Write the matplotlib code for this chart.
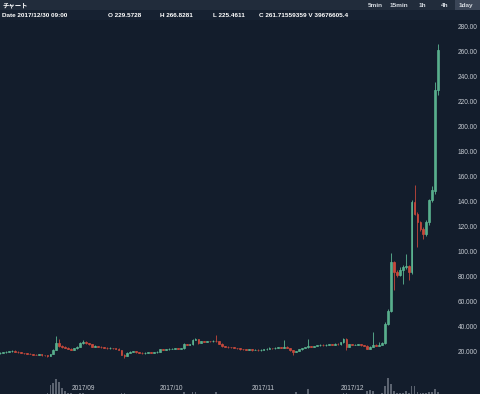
import matplotlib
matplotlib.use("Agg")
import matplotlib.pyplot as plt
from matplotlib.patches import Rectangle
import matplotlib.transforms as mtransforms
import numpy as np
import pandas as pd

plt.rcParams['font.family'] = ['Liberation Sans', 'Noto Sans CJK JP']

# daily candles, 2017-08-04 .. 2017-12-30
dates = pd.date_range("2017-08-04", "2017-12-30", freq="D")

opens = [
    # Aug
    19.2, 19.5, 19.9, 20.4, 20.9, 21.3, 20.6, 19.9, 19.5, 19.1, 18.8, 18.6, 18.2, 18.0,
    18.3, 17.8, 17.5, 17.2, 18.6, 22.0, 27.6, 25.2, 24.2, 23.6, 22.8, 22.2, 23.1, 24.6,
    # Sep
    27.4, 28.6, 27.2, 26.4, 24.6, 25.0, 24.4, 24.0, 23.6, 23.2, 23.5, 23.1, 22.8, 21.9, 18.0,
    17.0, 19.8, 20.5, 20.8, 20.0, 19.6, 19.2, 19.6, 19.9, 19.5, 20.0, 20.3, 22.4, 22.0, 22.5,
    # Oct
    22.8, 23.0, 23.2, 22.8, 23.4, 26.5, 26.0, 26.4, 30.2, 30.5, 27.5, 28.8, 28.6, 29.0, 28.7, 29.1,
    28.8, 26.8, 25.0, 24.6, 24.2, 23.9, 23.5, 23.1, 22.6, 22.3, 22.0, 22.3, 21.8, 22.0, 21.6,
    # Nov
    22.0, 22.5, 23.0, 23.4, 23.1, 23.5, 24.0, 23.6, 24.5, 23.5, 21.6, 20.4, 21.0, 22.4, 23.4,
    24.0, 25.0, 24.6, 25.0, 25.5, 26.0, 25.6, 26.0, 26.5, 26.1, 27.0, 26.6, 28.0, 31.0, 24.5,
    # Dec
    26.5, 26.0, 26.2, 26.6, 25.6, 25.4, 23.0, 24.6, 26.0, 25.4, 26.0, 27.5, 43.0, 53.0, 92.0,
    84.0, 82.0, 86.0, 88.0, 89.0, 84.0, 140.5, 131.0, 124.0, 119.0, 115.0, 124.0, 142.0, 149.0, 229.5728,
]
highs = [
    20.0, 20.4, 20.9, 21.4, 21.9, 21.6, 21.0, 20.2, 19.8, 19.5, 19.6, 18.9, 18.6, 18.7,
    18.6, 18.1, 17.8, 19.0, 22.6, 33.0, 30.5, 25.8, 24.8, 24.0, 23.2, 23.6, 25.0, 27.9,
    29.5, 29.0, 27.6, 26.7, 26.2, 25.4, 24.8, 24.3, 24.0, 23.9, 23.8, 23.4, 23.1, 22.2, 18.5,
    20.2, 20.9, 21.4, 21.1, 20.4, 19.9, 20.0, 20.3, 20.2, 20.4, 20.7, 22.9, 22.7, 22.9, 23.2,
    23.5, 23.6, 23.5, 23.8, 27.6, 26.9, 26.8, 30.8, 31.2, 30.8, 29.2, 29.1, 29.4, 29.3, 29.5, 34.0,
    29.1, 27.1, 25.3, 24.9, 24.5, 24.2, 23.8, 23.4, 22.9, 22.6, 22.7, 22.6, 22.4, 22.3, 22.4,
    22.9, 23.4, 24.5, 23.7, 23.9, 24.4, 24.3, 30.0, 24.9, 23.8, 21.9, 21.4, 22.8, 23.8, 24.4,
    31.0, 25.3, 25.4, 25.8, 26.4, 26.3, 26.4, 26.9, 26.8, 27.4, 27.3, 28.5, 31.5, 31.3, 27.0,
    26.9, 26.6, 27.0, 26.9, 26.0, 25.7, 25.0, 36.0, 26.4, 28.5, 28.0, 44.0, 54.5, 99.5, 93.0,
    86.0, 88.0, 89.5, 99.0, 90.0, 141.5, 154.0, 132.0, 125.0, 120.0, 125.5, 143.0, 153.0, 236.0, 266.8281,
]
lows = [
    18.9, 19.2, 19.6, 20.1, 20.6, 20.2, 19.6, 19.1, 18.8, 18.5, 18.3, 17.8, 17.6, 17.7,
    17.4, 17.1, 16.6, 17.0, 18.3, 21.6, 24.5, 23.8, 23.2, 22.4, 21.7, 21.9, 22.8, 24.2,
    26.9, 26.8, 26.0, 24.2, 24.3, 24.1, 23.7, 23.3, 22.9, 22.9, 22.7, 22.4, 21.5, 17.6, 15.5,
    16.7, 19.4, 20.1, 19.6, 19.2, 18.8, 19.0, 19.3, 19.1, 19.2, 19.7, 20.0, 21.6, 21.7, 22.2,
    22.4, 22.7, 22.4, 22.5, 23.0, 25.6, 25.7, 26.0, 29.6, 27.0, 27.3, 28.2, 28.3, 28.3, 28.4, 28.3,
    26.4, 24.6, 24.2, 23.8, 23.5, 23.1, 22.7, 22.2, 21.9, 21.6, 21.8, 21.4, 21.5, 21.2, 21.3,
    21.7, 22.2, 22.7, 22.7, 22.8, 23.2, 23.2, 23.3, 23.1, 21.2, 18.0, 20.0, 20.7, 22.1, 23.1,
    23.7, 24.2, 24.3, 24.7, 25.2, 25.2, 25.3, 25.7, 25.7, 25.8, 26.2, 26.2, 27.6, 22.0, 24.0,
    25.6, 25.6, 25.8, 25.2, 25.0, 22.4, 22.7, 24.2, 25.0, 25.0, 25.6, 27.0, 42.0, 52.5, 70.0,
    80.0, 81.0, 75.0, 87.0, 78.0, 83.0, 129.5, 104.0, 117.0, 111.0, 113.0, 122.0, 140.0, 147.0, 225.4611,
]
closes = [
    19.5, 19.9, 20.4, 20.9, 21.3, 20.6, 19.9, 19.5, 19.1, 18.8, 18.6, 18.2, 18.0, 18.3,
    17.8, 17.5, 17.2, 18.6, 22.0, 27.6, 25.2, 24.2, 23.6, 22.8, 22.2, 23.1, 24.6, 27.4,
    28.6, 27.2, 26.4, 24.6, 25.0, 24.4, 24.0, 23.6, 23.2, 23.5, 23.1, 22.8, 21.9, 18.0, 17.0,
    19.8, 20.5, 20.8, 20.0, 19.6, 19.2, 19.6, 19.9, 19.5, 20.0, 20.3, 22.4, 22.0, 22.5, 22.8,
    23.0, 23.2, 22.8, 23.4, 26.5, 26.0, 26.4, 30.2, 30.5, 27.5, 28.8, 28.6, 29.0, 28.7, 29.1, 28.8,
    26.8, 25.0, 24.6, 24.2, 23.9, 23.5, 23.1, 22.6, 22.3, 22.0, 22.3, 21.8, 22.0, 21.6, 22.0,
    22.5, 23.0, 23.4, 23.1, 23.5, 24.0, 23.6, 24.5, 23.5, 21.6, 20.4, 21.0, 22.4, 23.4, 24.0,
    25.0, 24.6, 25.0, 25.5, 26.0, 25.6, 26.0, 26.5, 26.1, 27.0, 26.6, 28.0, 31.0, 24.5, 26.5,
    26.0, 26.2, 26.6, 25.6, 25.4, 23.0, 24.6, 26.0, 25.4, 26.0, 27.5, 43.0, 53.0, 92.0, 84.0,
    82.0, 86.0, 88.0, 89.0, 84.0, 140.5, 131.0, 124.0, 119.0, 115.0, 124.0, 142.0, 150.0, 229.6, 261.71559359,
]
volumes = [
    0.4, 0.4, 0.4, 0.4, 0.4, 0.4, 0.4, 0.4, 0.4, 0.4, 0.4, 0.4, 0.4, 0.4,
    0.4, 0.4, 1, 9, 11, 15, 12, 6, 3, 1, 1, 0.5, 0.5, 1,
    1, 0.5, 0.4, 0.4, 0.4, 0.4, 0.4, 0.4, 0.4, 0.4, 0.4, 0.4, 0.4, 1, 1,
    0.4, 0.4, 0.4, 0.4, 0.4, 0.4, 0.4, 0.4, 0.4, 0.4, 0.4, 0.4, 0.4, 0.4, 0.4,
    0.4, 0.4, 0.4, 0.4, 2, 0.4, 0.4, 2, 2, 0.4, 0.4, 0.4, 0.4, 0.4, 0.4, 2,
    0.4, 0.4, 0.4, 0.4, 0.4, 0.4, 0.4, 0.4, 0.4, 0.4, 0.4, 0.4, 0.4, 0.4, 0.4,
    0.4, 0.4, 0.4, 0.4, 0.4, 0.4, 0.4, 0.4, 0.4, 0.4, 0.4, 2, 0.4, 0.4, 0.4,
    5, 0.4, 0.4, 0.4, 0.4, 0.4, 0.4, 0.4, 0.4, 0.4, 0.4, 0.4, 1, 1, 0.4,
    0.4, 0.4, 0.4, 0.4, 0.4, 3, 4, 3, 0.5, 0.5, 1, 8, 16, 10, 3,
    1, 1, 1, 3, 1, 8, 8, 2, 1, 1, 1, 2, 2, 5, 2,
]

month_ticks = ["2017-09-01", "2017-10-01", "2017-11-01", "2017-12-01"]
month_labels = ["2017/09", "2017/10", "2017/11", "2017/12"]
price_ticks = [20, 40, 60, 80, 100, 120, 140, 160, 180, 200, 220, 240, 260, 280]
header_fields = ["Date 2017/12/30 09:00", "O 229.5728", "H 266.8281", "L 225.4611",
                 "C 261.71559359 V 39676605.4"]
intervals = ["5min", "15min", "1h", "4h", "1day"]

BG = "#131d2c"
BAR = "#212c3b"
ROW2 = "#162131"
TXT = "#c6cbd2"
UP_FACE = "#44866f"
UP_EDGE = "#5db793"
DN_FACE = "#e2503f"
DN_WICK = "#c4473b"
VOL = "#5b6370"

W, H = 480, 394


def fx(px):
    return px / W


def fy(py):
    return 1 - py / H


fig = plt.figure(figsize=(4.8, 3.94), dpi=100, facecolor=BG)

# volume strip at the bottom
vax = fig.add_axes([0, 0, 1, 40 / H], zorder=0)
vax.set_xlim(-0.04, 162.12)
vax.set_ylim(0, 40)
vax.set_axis_off()

ax = fig.add_axes([0, 0, 1, fy(10)], zorder=1)
ax.set_xlim(-0.04, 162.12)
ax.set_ylim(-13.36, 293.84)
ax.set_axis_off()

x = np.arange(len(dates))
o = np.array(opens)
h = np.array(highs)
l = np.array(lows)
c = np.array(closes)
up = c >= o

vax.bar(x, volumes, width=0.62, color=VOL, linewidth=0)

ax.vlines(x[up], l[up], h[up], color=UP_EDGE, lw=0.6)
ax.vlines(x[~up], l[~up], h[~up], color=DN_WICK, lw=0.6)
ax.bar(x[up], c[up] - o[up], bottom=o[up], width=0.62,
       color=UP_FACE, edgecolor=UP_EDGE, linewidth=0.5)
ax.bar(x[~up], o[~up] - c[~up], bottom=c[~up], width=0.62,
       color=DN_FACE, edgecolor=DN_FACE, linewidth=0.4)

# price labels on the right
trans_y = mtransforms.blended_transform_factory(fig.transFigure, ax.transData)
for p in price_ticks:
    lab = f"{p:.3f}" if p < 100 else f"{p:.2f}"
    ax.text(fx(477.5), p, lab, transform=trans_y, ha="right", va="center",
            fontsize=4.7, color=TXT)

# month labels
trans_x = mtransforms.blended_transform_factory(ax.transData, fig.transFigure)
for d, lab in zip(month_ticks, month_labels):
    ax.text(dates.get_loc(pd.Timestamp(d)), fy(388), lab, transform=trans_x,
            ha="center", va="center", fontsize=4.7, color=TXT)

# header bars
fig.patches.append(Rectangle((0, fy(10)), 1, 10 / H, transform=fig.transFigure,
                             facecolor=BAR, edgecolor="none", zorder=2))
fig.patches.append(Rectangle((0, fy(20)), 1, 10 / H, transform=fig.transFigure,
                             facecolor=ROW2, edgecolor="none", zorder=2))
fig.patches.append(Rectangle((fx(455), fy(10)), fx(25), 10 / H, transform=fig.transFigure,
                             facecolor="#3b4657", edgecolor="none", zorder=2))

fig.text(fx(2.5), fy(5), "チャート", ha="left", va="center", fontsize=4.6,
         color="white", fontweight="bold", zorder=3)

for px, s in zip([368.0, 390.0, 418.3, 441.0, 458.3], intervals):
    fig.text(fx(px), fy(5.2), s, ha="left", va="center", fontsize=4.6,
             color="#d5dae0", fontweight="bold", zorder=3)

for px, s in zip([2.5, 108.5, 160.0, 213.3, 259.3], header_fields):
    fig.text(fx(px), fy(15.3), s, ha="left", va="center", fontsize=4.6,
             color="white", fontweight="bold", zorder=3)

fig.savefig("out.png", dpi=100, facecolor=BG)
